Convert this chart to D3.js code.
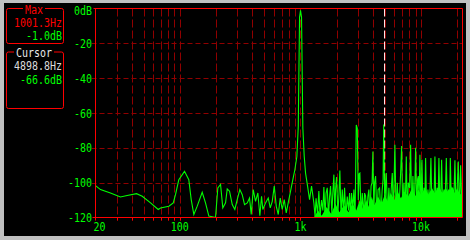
<!DOCTYPE html>
<html>
<head>
<meta charset="utf-8">
<script src="https://cdn.jsdelivr.net/npm/d3@7"></script>
<style>
body { margin: 0; background: #c0c0c0; overflow: hidden; }
text { font-family: "DejaVu Sans Mono", monospace; font-size: 12px; }
text.readout { font-size: 11.5px; }
</style>
</head>
<body>
<div id="chart"></div>
<script>
var svgWidth = 470;
var svgHeight = 240;

// spectrum trace, 20 Hz - 460 Hz
var lowHz = [20, 22.0, 26.6, 32.2, 36.6, 43.8, 48.8, 57.2, 66.2, 69.2,
  81.1, 88.2, 92.1, 98.1, 109.4, 118.7, 124.3, 130.7, 139.4, 153.3,
  163.3, 174, 197.7, 206.6, 217.6, 227.2, 239.4, 247.2, 258.4, 272,
  285.8, 299.2, 314.6, 329.2, 344, 362.2, 378.4, 390.8, 406, 424.4,
  443.4, 460.8];
var lowDb = [-101.7, -104, -105.9, -108.2, -107.4, -106.3, -107.8, -111.6, -115.4, -114.5,
  -113.5, -111.6, -106.9, -98.3, -93.5, -98.3, -109.7, -118.3, -113.5, -105.5,
  -111.6, -119.2, -120, -103, -101, -114.5, -111.6, -103.6, -104.9, -112.6,
  -115.4, -109.7, -104, -106.9, -112.6, -111.6, -108.8, -118.3, -104, -110.7,
  -105.9, -119];

// around the 1 kHz tone
var peakHz = [476, 487.8, 513.6, 540.8, 562, 583.8, 606.6, 630, 654.6, 680,
  706.4, 734, 762.6, 801.4, 832.8, 865, 898.8, 934, 959.2, 983,
  1001.3, 1021, 1047, 1075, 1102.6, 1145.6, 1190, 1236, 1292];
var peakDb = [-107.8, -115.4, -111.6, -108.8, -114.5, -110.7, -102, -113.5, -118.3, -108.8,
  -115.4, -109.7, -117.3, -109.7, -104, -98.3, -92.6, -85, -67.8, -5,
  -1.0, -5, -68.8, -85, -94.5, -102, -109.7, -102, -111.6];

// harmonics and noise, 1.3 kHz - 22 kHz
var highHz = [1322, 1347, 1386, 1421, 1454, 1496, 1534, 1564, 1600, 1631,
  1668, 1710, 1743, 1777, 1822, 1846, 1893, 1929, 1955, 1993,
  2043, 2082, 2122, 2172, 2222, 2278, 2322, 2380, 2444, 2506,
  2554, 2604, 2654, 2720, 2773, 2837, 2903, 2959, 3016, 3062,
  3110, 3182, 3255, 3337, 3401, 3467, 3554, 3623, 3692, 3764,
  3851, 3925, 3985, 4062, 4117, 4197, 4302, 4402, 4530, 4644,
  4751, 4843, 4899, 5013, 5080, 5148, 5278, 5411, 5536, 5643,
  5773, 5896, 5975, 6067, 6208, 6352, 6511, 6675, 6765, 6895,
  7055, 7205, 7372, 7543, 7689, 7836, 8034, 8189, 8378, 8556,
  8754, 8889, 9009, 9218, 9359, 9485, 9631, 9780, 10006, 10161,
  10396, 10597, 10760, 10904, 11156, 11394, 11658, 11883, 12066, 12346,
  12584, 12826, 13024, 13326, 13582, 13844, 14058, 14384, 14605, 14802,
  15145, 15467, 15825, 16191, 16599, 16919, 17245, 17476, 17915, 18260,
  18720, 19081, 19523, 19900, 20361, 20793, 21274, 21767, 22050];
var highDb = [-119.5, -109, -118, -104.8, -119.5, -110, -116, -102.5, -119.5, -106,
  -103, -119.5, -108, -102, -118, -109, -95.4, -119, -104, -96.8,
  -118, -108, -93, -119.5, -104, -117, -103, -119.5, -108, -116,
  -106, -119.5, -106, -115, -104, -119, -66.9, -68.8, -110, -95,
  -94.5, -119.5, -106, -119, -106, -107.6, -119.5, -108, -104, -119.5,
  -102, -100, -82.1, -118, -100, -96.2, -119.5, -104, -103, -119.5,
  -105, -98, -66.6, -119, -100, -94.5, -119.5, -103, -119, -105,
  -94.5, -119.5, -100, -78.3, -119.5, -100, -118, -104, -95, -78.9,
  -119.5, -100, -117, -85, -119, -100, -103, -78.3, -119.5, -96.2,
  -118, -100, -80, -119, -98, -96.2, -110, -84, -119.5, -86.9,
  -118, -103, -110, -85.9, -119.5, -104, -112, -103, -85.9, -119.5,
  -105, -108, -85, -119.5, -103, -110, -85.9, -119.5, -104, -86.9,
  -119, -104, -110, -85.9, -119.5, -104, -110, -85.9, -119.5, -103,
  -108, -87.2, -119.5, -104, -87.8, -119, -90, -112, -108];

// ragged noise body under the spikes
var bodyHz = [1292, 1400, 1500, 1650, 1800, 1950, 2100, 2300, 2500, 2700,
  2900, 3100, 3300, 3500, 3700, 3900, 4100, 4400, 4700, 5000,
  5300, 5600, 6000, 6400, 6800, 7300, 7800, 8300, 8900, 9500,
  10000, 10800, 11500, 12300, 13000, 14000, 15000, 16000, 17000, 18000,
  19000, 20000, 21000, 22050];
var bodyDb = [-120, -116, -119, -114, -118, -112, -117, -113, -117, -112,
  -116, -110, -115, -110, -114, -108, -113, -108, -112, -107,
  -111, -106, -110, -105, -109, -105, -108, -104, -108, -104,
  -107, -103, -107, -103, -106, -102, -106, -103, -106, -102,
  -106, -103, -107, -105];

var gridHz = [30, 40, 50, 60, 70, 80, 90, 100, 200, 300, 400, 500, 600, 700, 800, 900,
  1000, 2000, 3000, 4000, 5000, 6000, 7000, 8000, 9000, 10000, 20000];
var labelHz = [20, 100, 1000, 10000];
var labelText = ["20", "100", "1k", "10k"];
var dbTicks = [0, -20, -40, -60, -80, -100, -120];
var dbText = ["0dB", "-20", "-40", "-60", "-80", "-100", "-120"];

var maxHz = 1001.3, maxDb = -1.0;
var cursorHz = 4898.8, cursorDb = -66.6;

var svg = d3.select("#chart")
  .append("svg")
  .attr("width", svgWidth)
  .attr("height", svgHeight);

// window frame
svg.append("rect").attr("width", svgWidth).attr("height", svgHeight).attr("fill", "#c0c0c0");
svg.append("rect").attr("x", 4).attr("y", 3).attr("width", 462).attr("height", 233).attr("fill", "#000");

var x = d3.scaleLog().domain([20, 22050]).range([95.5, 462.5]);
var y = d3.scaleLinear().domain([-120, 0]).range([217.5, 8.5]);

// grid
svg.append("g").selectAll("line")
  .data(gridHz)
  .enter()
  .append("line")
  .attr("x1", d => Math.round(x(d)) + 0.5)
  .attr("x2", d => Math.round(x(d)) + 0.5)
  .attr("y1", y(0))
  .attr("y2", y(-120) + 3)
  .attr("stroke", "#900000")
  .attr("stroke-dasharray", "8,3");

svg.append("g").selectAll("line")
  .data(dbTicks.slice(1, 6))
  .enter()
  .append("line")
  .attr("x1", x(20) - 4)
  .attr("x2", x(22050))
  .attr("y1", d => Math.round(y(d)) + 0.5)
  .attr("y2", d => Math.round(y(d)) + 0.5)
  .attr("stroke", "#900000")
  .attr("stroke-dasharray", "5,3");

// red ticks below the axis
svg.append("g").selectAll("line")
  .data(gridHz)
  .enter()
  .append("line")
  .attr("x1", d => Math.round(x(d)) + 0.5)
  .attr("x2", d => Math.round(x(d)) + 0.5)
  .attr("y1", y(-120))
  .attr("y2", y(-120) + 3)
  .attr("stroke", "#ff0000");

// cursor line
svg.append("line")
  .attr("x1", Math.round(x(cursorHz)) + 0.5)
  .attr("x2", Math.round(x(cursorHz)) + 0.5)
  .attr("y1", y(0))
  .attr("y2", y(-120))
  .attr("stroke", "#ffe4e4")
  .attr("stroke-dasharray", "8,3");

// trace
svg.append("clipPath").attr("id", "plotClip")
  .append("rect")
  .attr("x", x(20)).attr("y", y(0))
  .attr("width", x(22050) - x(20)).attr("height", y(-120) - y(0));

var bodyArea = d3.area()
  .x((d, i) => x(bodyHz[i]))
  .y0(y(-120))
  .y1((d, i) => y(bodyDb[i]));

svg.append("path")
  .attr("clip-path", "url(#plotClip)")
  .attr("d", bodyArea(bodyHz))
  .attr("fill", "#00ff00");

var traceHz = lowHz.concat(peakHz, highHz);
var traceDb = lowDb.concat(peakDb, highDb);

var traceLine = d3.line()
  .x((d, i) => x(traceHz[i]))
  .y((d, i) => y(traceDb[i]));

svg.append("path")
  .attr("clip-path", "url(#plotClip)")
  .attr("d", traceLine(traceHz))
  .attr("fill", "none")
  .attr("stroke", "#00ff00")
  .attr("stroke-width", 1.1);

// plot border
svg.append("path")
  .attr("d", `M${x(20) - 2},${y(0)}H${x(22050)}V${y(-120)}H${x(20) - 3}M${x(20)},${y(0)}V${y(-120) + 3}`)
  .attr("fill", "none")
  .attr("stroke", "#ff0000");

// y labels
svg.append("g").selectAll("text")
  .data(dbTicks)
  .enter()
  .append("text")
  .attr("x", 92)
  .attr("y", d => Math.max(y(d) + 4.5, 15))
  .attr("text-anchor", "end")
  .attr("fill", "#00ff00")
  .attr("textLength", (d, i) => dbText[i].length * 6)
  .attr("lengthAdjust", "spacingAndGlyphs")
  .text((d, i) => dbText[i]);

// x labels
svg.append("g").selectAll("text")
  .data(labelHz)
  .enter()
  .append("text")
  .attr("x", (d, i) => i === 0 ? x(d) - 2 : x(d) - labelText[i].length * 3)
  .attr("y", 231)
  .attr("fill", "#00ff00")
  .attr("textLength", (d, i) => labelText[i].length * 6)
  .attr("lengthAdjust", "spacingAndGlyphs")
  .text((d, i) => labelText[i]);

// readout boxes
function readout(top, bottom, title, titleColor, lines) {
  var g = svg.append("g");
  g.append("rect")
    .attr("x", 6.5).attr("y", top + 0.5)
    .attr("width", 57).attr("height", bottom - top)
    .attr("rx", 2)
    .attr("fill", "none")
    .attr("stroke", "#ff0000");
  var w = title.length * 6;
  var tx = 34 - w / 2;
  g.append("rect")
    .attr("x", tx - 2).attr("y", top - 2)
    .attr("width", w + 4).attr("height", 5)
    .attr("fill", "#000");
  g.append("text")
    .attr("class", "readout")
    .attr("x", tx).attr("y", top + 5.5)
    .attr("fill", titleColor)
    .attr("textLength", w)
    .attr("lengthAdjust", "spacingAndGlyphs")
    .text(title);
  lines.forEach(function(l) {
    g.append("text")
      .attr("class", "readout")
      .attr("x", 62)
      .attr("y", l.y)
      .attr("text-anchor", "end")
      .attr("fill", l.color)
      .attr("textLength", l.text.length * 6)
      .attr("lengthAdjust", "spacingAndGlyphs")
      .text(l.text);
  });
}

readout(8, 43, "Max", "#ff0000", [
  {text: maxHz.toFixed(1) + "Hz", y: 26.5, color: "#ff0000"},
  {text: maxDb.toFixed(1) + "dB", y: 39.5, color: "#00ff00"}
]);

readout(51.5, 108, "Cursor", "#e8e8e8", [
  {text: cursorHz.toFixed(1) + "Hz", y: 70.2, color: "#dcdcdc"},
  {text: cursorDb.toFixed(1) + "dB", y: 83.6, color: "#00ff00"}
]);
</script>
</body>
</html>
